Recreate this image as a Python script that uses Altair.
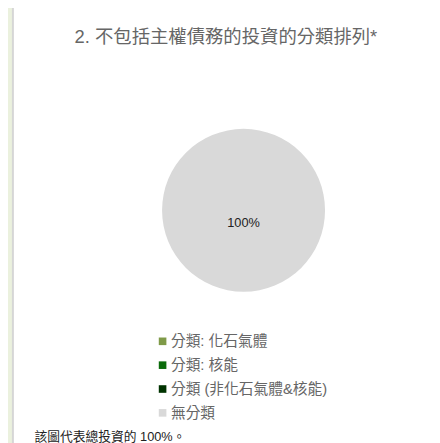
import altair as alt
import pandas as pd

title_text = ["2. 不包括主權債務的投資的分類排列*"]
categories = ["分類: 化石氣體", "分類: 核能", "分類 (非化石氣體&核能)", "無分類"]
values = [0, 0, 0, 100]
colors = ["#7f9a48", "#0b6b0b", "#003300", "#d9d9d9"]
footer_text = ["該圖代表總投資的 100%。"]

FONT = "Liberation Sans, Arial, Noto Sans CJK TC, sans-serif"

df = pd.DataFrame({"category": categories, "value": values})
df["label"] = df["value"].map(lambda v: f"{v:.0f}%")

W, H = 432, 435
CX, CY, R = 240, 202, 83

panel = alt.Chart(pd.DataFrame({"a": [0]})).mark_rect(
    fill="white", stroke="#d6d6d6", strokeWidth=2
).encode(
    x=alt.value(5), x2=alt.value(W + 20), y=alt.value(-20), y2=alt.value(H + 20)
)

color_scale = alt.Scale(domain=categories, range=colors)

pie = alt.Chart(df).mark_arc(outerRadius=R, strokeWidth=0).encode(
    theta=alt.Theta("value:Q", stack=True),
    color=alt.Color(
        "category:N",
        scale=color_scale,
        sort=categories,
        legend=alt.Legend(
            orient="none",
            legendX=150,
            legendY=328,
            title=None,
            symbolType="square",
            symbolSize=60,
            symbolStrokeWidth=0,
            labelFontSize=15,
            labelFont=FONT,
            labelColor="#666666",
            labelOffset=1,
            labelLimit=400,
            rowPadding=8.3,
            padding=0,
            direction="vertical",
        ),
    ),
    order=alt.Order("value:Q", sort="ascending"),
    x=alt.value(CX),
    y=alt.value(CY),
)

pie_label = alt.Chart(df).transform_filter("datum.value > 0").mark_text(
    font=FONT, fontSize=13, color="#222222", radius=13
).encode(
    theta=alt.Theta("value:Q", stack=True),
    text="label:N",
    x=alt.value(CX),
    y=alt.value(CY),
)

title = alt.Chart(pd.DataFrame({"t": title_text})).mark_text(
    font=FONT, fontSize=18.7, color="#666666", align="center", baseline="middle"
).encode(text="t:N", x=alt.value(222), y=alt.value(26))

footer = alt.Chart(pd.DataFrame({"t": footer_text})).mark_text(
    font=FONT, fontSize=13, color="#222222", align="left", baseline="middle"
).encode(text="t:N", x=alt.value(27), y=alt.value(433))

chart = alt.layer(panel, pie, pie_label, title, footer).properties(
    width=W, height=H, background="#ebf1de", padding=0,
    autosize=alt.AutoSizeParams(type="none"),
).configure_view(stroke=None)

chart.save("out.html", embed_options={"renderer": "svg", "actions": False})
